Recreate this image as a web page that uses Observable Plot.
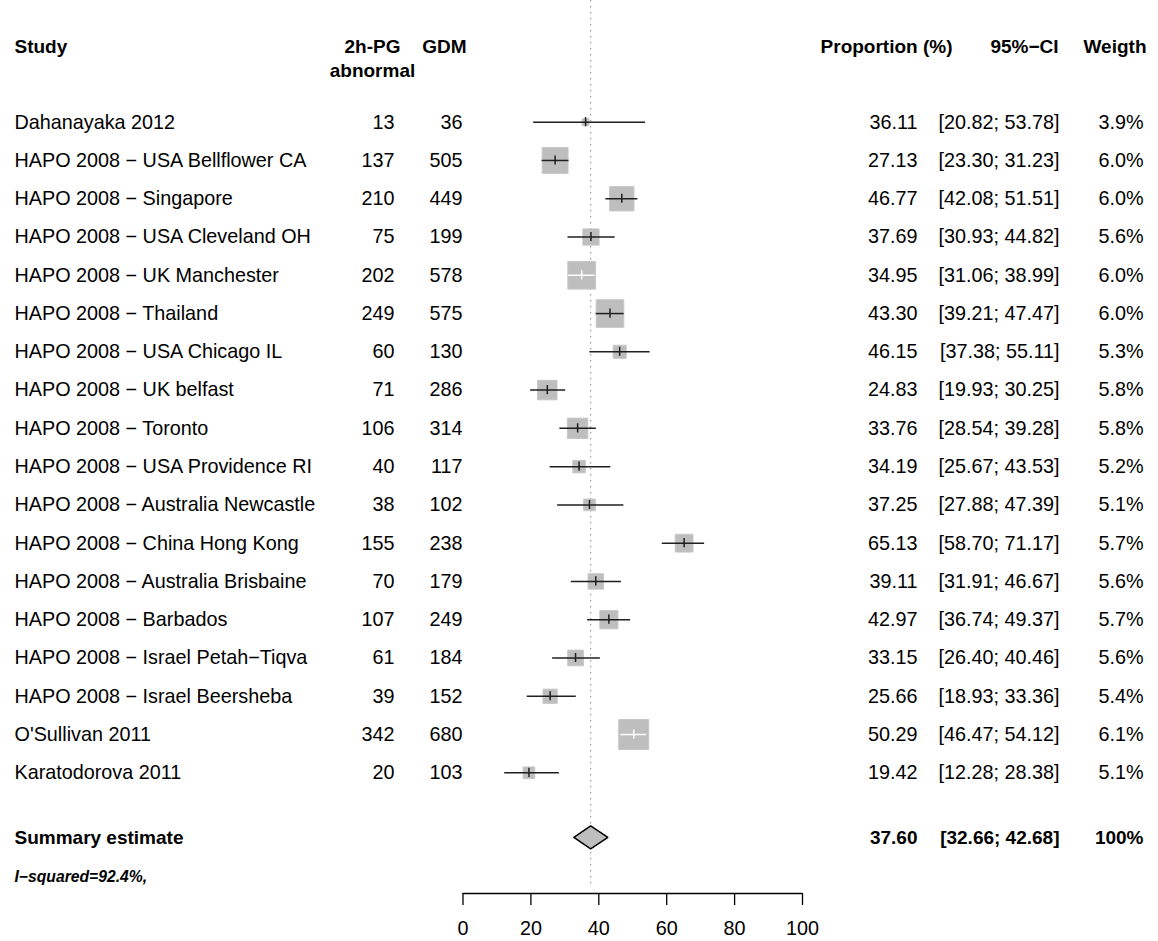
<!DOCTYPE html>
<html>
<head>
<meta charset="utf-8">
<script src="https://cdn.jsdelivr.net/npm/d3@7"></script>
<script src="https://cdn.jsdelivr.net/npm/@observablehq/plot@0.6"></script>
<style>
  html, body { margin: 0; padding: 0; background: #fff; }
  #chart svg { display: block; }
</style>
</head>
<body>
<div id="chart"></div>
<script>
// Study-level data: 2h-PG abnormal among women with GDM
const studies = [
  "Dahanayaka 2012",
  "HAPO 2008 − USA Bellflower CA",
  "HAPO 2008 − Singapore",
  "HAPO 2008 − USA Cleveland OH",
  "HAPO 2008 − UK Manchester",
  "HAPO 2008 − Thailand",
  "HAPO 2008 − USA Chicago IL",
  "HAPO 2008 − UK belfast",
  "HAPO 2008 − Toronto",
  "HAPO 2008 − USA Providence RI",
  "HAPO 2008 − Australia Newcastle",
  "HAPO 2008 − China Hong Kong",
  "HAPO 2008 − Australia Brisbaine",
  "HAPO 2008 − Barbados",
  "HAPO 2008 − Israel Petah−Tiqva",
  "HAPO 2008 − Israel Beersheba",
  "O'Sullivan 2011",
  "Karatodorova 2011"
];
const abnormal = [13, 137, 210, 75, 202, 249, 60, 71, 106, 40, 38, 155, 70, 107, 61, 39, 342, 20];
const gdm = [36, 505, 449, 199, 578, 575, 130, 286, 314, 117, 102, 238, 179, 249, 184, 152, 680, 103];
const proportion = [36.11, 27.13, 46.77, 37.69, 34.95, 43.30, 46.15, 24.83, 33.76, 34.19, 37.25, 65.13, 39.11, 42.97, 33.15, 25.66, 50.29, 19.42];
const ciLower = [20.82, 23.30, 42.08, 30.93, 31.06, 39.21, 37.38, 19.93, 28.54, 25.67, 27.88, 58.70, 31.91, 36.74, 26.40, 18.93, 46.47, 12.28];
const ciUpper = [53.78, 31.23, 51.51, 44.82, 38.99, 47.47, 55.11, 30.25, 39.28, 43.53, 47.39, 71.17, 46.67, 49.37, 40.46, 33.36, 54.12, 28.38];
const weight = [3.9, 6.0, 6.0, 5.6, 6.0, 6.0, 5.3, 5.8, 5.8, 5.2, 5.1, 5.7, 5.6, 5.7, 5.6, 5.4, 6.1, 5.1];

// Pooled (random-effects) estimate
const summaryLabel = "Summary estimate";
const summaryEst = 37.60;
const summaryLower = 32.66;
const summaryUpper = 42.68;
const summaryWeight = 100;
const heterogeneity = "I−squared=92.4%,";

// Column headers and axis ticks
const headers = {study: "Study", events1: "2h-PG", events2: "abnormal", total: "GDM",
                 prop: "Proportion (%)", ci: "95%−CI", weight: "Weigth"};
const axisTicks = [0, 20, 40, 60, 80, 100];

// ---- layout ----
const W = 1158, H = 941;
const font = "'Liberation Sans', Arial, Helvetica, sans-serif";
const fs = 19.8;          // table text size
const fsBold = 19;        // header / summary size
const rowY0 = 121.7;      // first study row (px)
const rowStep = 38.27;    // row spacing (px)
const axisY = 893;        // axis baseline (px)
const xRange = [462.5, 802];
const pxPerUnit = (xRange[1] - xRange[0]) / 100;

// rows expressed in row units
const yTop = -rowY0 / rowStep;
const yAxis = (axisY - rowY0) / rowStep;
const headerRow1 = -1.97, headerRow2 = -1.33;
const summaryRow = 18.69, hetRow = 19.71, refLineEnd = yAxis - 0.14;

// column anchors (px from left edge)
const col = {study: 14, events: 394, eventsHead: 372, total: 462, totalHead: 466,
             prop: 917, propHead: 952, ci: 1059, ciHead: 1058, weight: 1143, weightHead: 1146};

// box side grows with sqrt of the sample size
const boxMax = 30;
const nMax = d3.max(gdm);
const boxSide = n => boxMax * Math.sqrt(n / nMax);

const rows = studies.map((s, i) => ({
  study: s, row: i, events: abnormal[i], n: gdm[i],
  est: proportion[i], lo: ciLower[i], hi: ciUpper[i], w: weight[i],
  inside: (ciUpper[i] - ciLower[i]) * pxPerUnit < boxSide(gdm[i])
}));
const outside = rows.filter(d => !d.inside);
const inside = rows.filter(d => d.inside);

const diamondH = 0.3;
const diamond = [
  {x: summaryLower, y: summaryRow},
  {x: summaryEst, y: summaryRow - diamondH},
  {x: summaryUpper, y: summaryRow},
  {x: summaryEst, y: summaryRow + diamondH},
  {x: summaryLower, y: summaryRow}
];

const fmt2 = d3.format(".2f");
const fmt1 = d3.format(".1f");

const leftText = (data, opts) => Plot.text(data, {frameAnchor: "left", fontSize: fs, fill: "#000", ...opts});

const plot = Plot.plot({
  width: W,
  height: H,
  marginTop: 0,
  marginLeft: 0,
  marginRight: 0,
  marginBottom: H - axisY,
  style: {fontFamily: font, background: "#fff", color: "#000"},
  x: {domain: [0, 100], range: xRange},
  y: {domain: [yTop, yAxis], range: [0, axisY], axis: null},
  r: {domain: [0, nMax], range: [0, boxMax / Math.sqrt(Math.PI)]},
  marks: [
    // reference line at the pooled estimate
    Plot.ruleX([summaryEst], {y1: yTop, y2: refLineEnd, stroke: "#9a9a9a", strokeWidth: 1.2, strokeDasharray: "1.5,4.5"}),

    // study boxes
    Plot.dot(rows, {x: "est", y: "row", r: "n", symbol: "square", fill: "#bebebe", stroke: "#c6c6c6", strokeWidth: 1}),

    // confidence intervals and point ticks
    Plot.ruleY(outside, {y: "row", x1: "lo", x2: "hi", stroke: "#1f1f1f", strokeWidth: 1.5}),
    Plot.ruleX(outside, {x: "est", y1: d => d.row - 0.12, y2: d => d.row + 0.12, stroke: "#1f1f1f", strokeWidth: 1.5}),
    Plot.ruleY(inside, {y: "row", x1: "lo", x2: "hi", stroke: "#fff", strokeWidth: 1.5}),
    Plot.ruleX(inside, {x: "est", y1: d => d.row - 0.12, y2: d => d.row + 0.12, stroke: "#fff", strokeWidth: 1.5}),

    // pooled diamond
    Plot.line(diamond, {x: "x", y: "y", fill: "#bebebe", stroke: "#000", strokeWidth: 1.5, strokeLinejoin: "miter"}),

    // axis
    Plot.ruleY([yAxis], {x1: 0, x2: 100, stroke: "#000", strokeWidth: 1.3}),
    Plot.axisX({ticks: axisTicks, tickSize: 12, tickPadding: 15, fontSize: fs, label: null,
                tickFormat: d => String(d), strokeWidth: 1.3, stroke: "#000", fill: "#000"}),

    // headers
    leftText([headers.study], {y: headerRow1, dx: col.study, text: d => d, textAnchor: "start", fontWeight: "bold", fontSize: fsBold}),
    leftText([headers.events1], {y: headerRow1, dx: col.eventsHead, text: d => d, textAnchor: "middle", fontWeight: "bold", fontSize: fsBold}),
    leftText([headers.events2], {y: headerRow2, dx: col.eventsHead, text: d => d, textAnchor: "middle", fontWeight: "bold", fontSize: fsBold}),
    leftText([headers.total], {y: headerRow1, dx: col.totalHead, text: d => d, textAnchor: "end", fontWeight: "bold", fontSize: fsBold}),
    leftText([headers.prop], {y: headerRow1, dx: col.propHead, text: d => d, textAnchor: "end", fontWeight: "bold", fontSize: fsBold}),
    leftText([headers.ci], {y: headerRow1, dx: col.ciHead, text: d => d, textAnchor: "end", fontWeight: "bold", fontSize: fsBold}),
    leftText([headers.weight], {y: headerRow1, dx: col.weightHead, text: d => d, textAnchor: "end", fontWeight: "bold", fontSize: fsBold}),

    // study rows
    leftText(rows, {y: "row", dx: col.study, text: "study", textAnchor: "start"}),
    leftText(rows, {y: "row", dx: col.events, text: d => String(d.events), textAnchor: "end"}),
    leftText(rows, {y: "row", dx: col.total, text: d => String(d.n), textAnchor: "end"}),
    leftText(rows, {y: "row", dx: col.prop, text: d => fmt2(d.est), textAnchor: "end"}),
    leftText(rows, {y: "row", dx: col.ci, text: d => `[${fmt2(d.lo)}; ${fmt2(d.hi)}]`, textAnchor: "end"}),
    leftText(rows, {y: "row", dx: col.weight, text: d => `${fmt1(d.w)}%`, textAnchor: "end"}),

    // summary row
    leftText([summaryLabel], {y: summaryRow, dx: col.study, text: d => d, textAnchor: "start", fontWeight: "bold", fontSize: fsBold}),
    leftText([summaryEst], {y: summaryRow, dx: col.prop, text: d => fmt2(d), textAnchor: "end", fontWeight: "bold", fontSize: fsBold}),
    leftText([[summaryLower, summaryUpper]], {y: summaryRow, dx: col.ci, text: d => `[${fmt2(d[0])}; ${fmt2(d[1])}]`, textAnchor: "end", fontWeight: "bold", fontSize: fsBold}),
    leftText([summaryWeight], {y: summaryRow, dx: col.weight, text: d => `${d}%`, textAnchor: "end", fontWeight: "bold", fontSize: fsBold}),

    // heterogeneity statistic
    leftText([heterogeneity], {y: hetRow, dx: col.study, text: d => d, textAnchor: "start", fontWeight: "bold", fontStyle: "italic", fontSize: 15.7})
  ]
});

document.getElementById("chart").appendChild(plot);
</script>
</body>
</html>
